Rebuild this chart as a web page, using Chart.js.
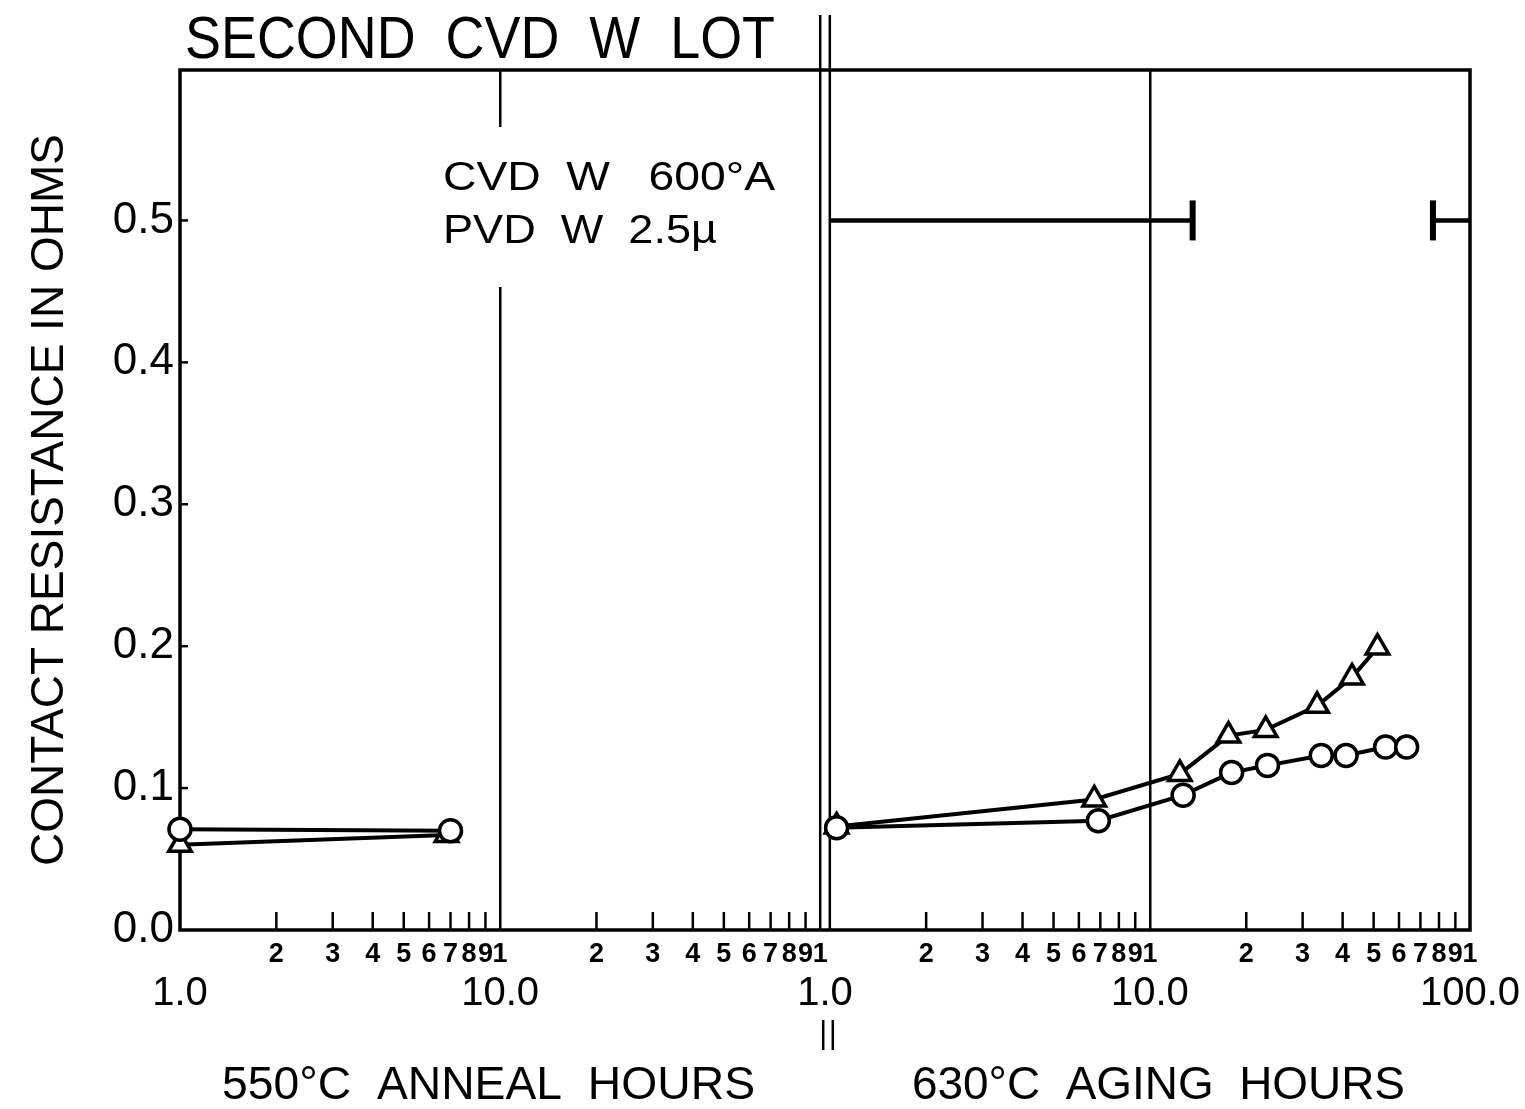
<!DOCTYPE html>
<html>
<head>
<meta charset="utf-8">
<title>Second CVD W lot</title>
<script src="https://cdn.jsdelivr.net/npm/chart.js@4.4.1/dist/chart.umd.min.js"></script>
<style>
  html, body { margin: 0; padding: 0; background: #fff; }
  #wrap { width: 1525px; height: 1109px; }
</style>
</head>
<body>
<div id="wrap"><canvas id="chart" width="1525" height="1109"></canvas></div>
<script>
// values (hours, ohms)
const annealHoursCircle = [1.0, 7.0];
const annealOhmsCircle = [0.071, 0.070];
const annealHoursTriangle = [1.0, 6.8];
const annealOhmsTriangle = [0.060, 0.067];

const agingHoursCircle = [1.05, 6.9, 12.7, 18.0, 23.3, 34.3, 41.0, 54.5, 63.4];
const agingOhmsCircle = [0.072, 0.077, 0.095, 0.111, 0.116, 0.123, 0.123, 0.129, 0.129];
const agingHoursTriangle = [1.05, 6.7, 12.4, 17.6, 23.0, 33.3, 42.8, 51.4];
const agingOhmsTriangle = [0.073, 0.092, 0.110, 0.137, 0.141, 0.158, 0.178, 0.199];

// range bars drawn at 0.5 ohm on the aging side
const barLevel = 0.5;
const barHoursA = [1.0, 13.6];
const barHoursB = [76.6, 100];

const yTicks = [0.0, 0.1, 0.2, 0.3, 0.4, 0.5];
const minorDigits = ["2", "3", "4", "5", "6", "7", "8", "9", "1"];
const majorLabels = ["1.0", "10.0", "1.0", "10.0", "100.0"];

// the x axis is in decades: anneal side 0..2, aging side starts a bit after 2
const AGING_START = 2.03;
const annealX = (h) => Math.log10(h);
const agingX = (h) => AGING_START + Math.log10(h);

const minorVals = [];
const minorText = [];
[0, AGING_START].forEach((start) => {
  [0, 1].forEach((dec) => {
    for (let k = 2; k <= 10; k++) {
      minorVals.push(start + dec + Math.log10(k));
      minorText.push(minorDigits[k - 2]);
    }
  });
});
const majorVals = [0, 1, (2 + AGING_START) / 2, AGING_START + 1, AGING_START + 2];

const pts = (hours, ohms, fx) => hours.map((h, i) => ({ x: fx(h), y: ohms[i] }));

const FONT = '"Liberation Sans", Arial, sans-serif';

const fitText = (ctx, text, x, y, width, size) => {
  ctx.font = `${size}px ${FONT}`;
  const w = ctx.measureText(text).width;
  ctx.save();
  ctx.translate(x, y);
  ctx.scale(width / w, 1);
  ctx.textAlign = "left";
  ctx.textBaseline = "alphabetic";
  ctx.fillText(text, 0, 0);
  ctx.restore();
};

const isMajorGrid = (v) => Math.abs(v - 1) < 1e-6 || Math.abs(v - (AGING_START + 1)) < 1e-6;

const decor = {
  id: "decor",
  beforeDatasetsDraw(chart) {
    const { ctx, chartArea: a } = chart;
    const xs = chart.scales.x;
    const ys = chart.scales.y;
    ctx.save();
    ctx.strokeStyle = "#000";
    ctx.lineCap = "butt";
    // inward minor ticks
    ctx.lineWidth = 2.5;
    minorVals.forEach((v, i) => {
      if (minorText[i] === "1") return;
      const px = xs.getPixelForValue(v);
      ctx.beginPath();
      ctx.moveTo(px, a.bottom);
      ctx.lineTo(px, a.bottom - 18);
      ctx.stroke();
    });
    yTicks.forEach((v) => {
      if (v === 0) return;
      const py = ys.getPixelForValue(v);
      ctx.beginPath();
      ctx.moveTo(a.left, py);
      ctx.lineTo(a.left + 8, py);
      ctx.stroke();
    });
    // double break line between the two time scales
    ctx.lineWidth = 2.5;
    [2, AGING_START].forEach((v) => {
      const px = xs.getPixelForValue(v);
      ctx.beginPath();
      ctx.moveTo(px, 15);
      ctx.lineTo(px, a.bottom);
      ctx.stroke();
      ctx.beginPath();
      ctx.moveTo(px + 3, 1020);
      ctx.lineTo(px + 3, 1050);
      ctx.stroke();
    });
    // frame
    ctx.lineWidth = 3.5;
    ctx.strokeRect(a.left, a.top, a.right - a.left, a.bottom - a.top);
    ctx.restore();
  },
  afterDraw(chart) {
    const { ctx } = chart;
    const xs = chart.scales.x;
    ctx.save();
    // gap in the 10 h line behind the note
    const gx = xs.getPixelForValue(1);
    ctx.fillStyle = "#fff";
    ctx.fillRect(gx - 4, 127, 8, 160);
    ctx.fillStyle = "#000";
    fitText(ctx, "SECOND  CVD  W  LOT", 185, 58, 590, 60);
    fitText(ctx, "CVD  W   600°A", 443, 190, 332, 40);
    fitText(ctx, "PVD  W  2.5µ", 443, 243, 274, 40);
    fitText(ctx, "550°C  ANNEAL  HOURS", 222, 1099, 533, 46);
    fitText(ctx, "630°C  AGING  HOURS", 912, 1099, 493, 46);
    ctx.restore();
  },
};

const lineSet = (data, style, radius) => ({
  data,
  borderColor: "#000",
  borderWidth: 4,
  backgroundColor: "#fff",
  pointStyle: style,
  pointRadius: radius,
  pointBorderWidth: 3.5,
  pointBorderColor: "#000",
  pointBackgroundColor: "#fff",
  tension: 0,
  clip: false,
});

const barSet = (data, radii) => ({
  data,
  borderColor: "#000",
  borderWidth: 4.5,
  pointStyle: "line",
  pointRotation: 90,
  pointRadius: radii,
  pointBorderWidth: 6,
  pointBorderColor: "#000",
  clip: false,
});

new Chart(document.getElementById("chart"), {
  type: "line",
  data: {
    datasets: [
      barSet(pts(barHoursA, [barLevel, barLevel], agingX), [0, 20]),
      barSet(pts(barHoursB, [barLevel, barLevel], agingX), [20, 0]),
      lineSet(pts(annealHoursCircle, annealOhmsCircle, annealX), "circle", 11),
      lineSet(pts(annealHoursTriangle, annealOhmsTriangle, annealX), "triangle", 13),
      lineSet(pts(agingHoursCircle, agingOhmsCircle, agingX), "circle", 11),
      lineSet(pts(agingHoursTriangle, agingOhmsTriangle, agingX), "triangle", 13),
    ],
  },
  plugins: [decor],
  options: {
    responsive: false,
    animation: false,
    devicePixelRatio: 1,
    layout: { padding: { top: 70, right: 55, bottom: 83, left: 0 } },
    plugins: {
      legend: { display: false },
      tooltip: { enabled: false },
    },
    scales: {
      x: {
        type: "linear",
        min: 0,
        max: AGING_START + 2,
        weight: 0,
        afterBuildTicks: (scale) => {
          scale.ticks = minorVals.map((v) => ({ value: v }));
        },
        afterFit: (scale) => {
          scale.height = 40;
        },
        ticks: {
          autoSkip: false,
          maxRotation: 0,
          padding: 8,
          color: "#000",
          font: { family: FONT, size: 27, weight: "bold" },
          callback: (value, index) => minorText[index],
        },
        grid: {
          drawTicks: false,
          lineWidth: 2.5,
          color: (c) => (c.tick && isMajorGrid(c.tick.value) ? "#000" : "rgba(0,0,0,0)"),
        },
        border: { display: false },
      },
      x2: {
        type: "linear",
        position: "bottom",
        min: 0,
        max: AGING_START + 2,
        weight: 1,
        afterBuildTicks: (scale) => {
          scale.ticks = majorVals.map((v) => ({ value: v }));
        },
        afterFit: (scale) => {
          scale.height = 56;
        },
        ticks: {
          autoSkip: false,
          maxRotation: 0,
          padding: 0,
          color: "#000",
          font: { family: FONT, size: 40 },
          callback: (value, index) => majorLabels[index],
        },
        grid: { display: false, drawTicks: false },
        border: { display: false },
      },
      y: {
        min: 0,
        max: 0.606,
        afterBuildTicks: (scale) => {
          scale.ticks = yTicks.map((v) => ({ value: v }));
        },
        afterFit: (scale) => {
          scale.width = 180;
        },
        ticks: {
          padding: 6,
          color: "#000",
          font: { family: FONT, size: 44 },
          callback: (value) => value.toFixed(1),
        },
        grid: { display: false, drawTicks: false },
        border: { display: false },
        title: {
          display: true,
          text: "CONTACT RESISTANCE IN OHMS",
          color: "#000",
          font: { family: FONT, size: 46 },
          padding: { top: 23, bottom: 0 },
        },
      },
    },
  },
});
</script>
</body>
</html>
